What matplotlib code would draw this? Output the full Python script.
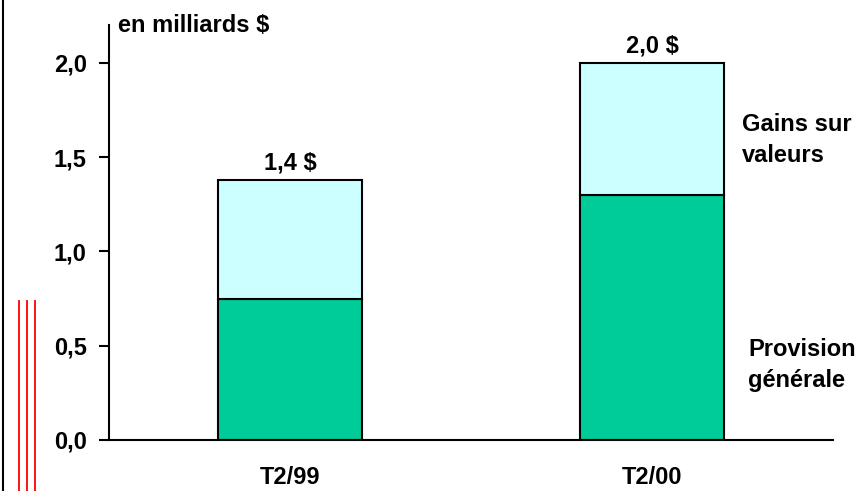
import numpy as np
import matplotlib.pyplot as plt
from matplotlib.lines import Line2D

plt.rcParams['font.family'] = ['Liberation Sans', 'DejaVu Sans']
plt.rcParams['font.weight'] = 'bold'

# ---------------- données ----------------
periodes = ['T2/99', 'T2/00']
provision_generale = [0.75, 1.30]
gains_sur_valeurs = [0.63, 0.70]
totaux_labels = ['1,4 $', '2,0 $']
yticks = [0.0, 0.5, 1.0, 1.5, 2.0]
ytick_labels = ['0,0', '0,5', '1,0', '1,5', '2,0']

FS = 17

fig = plt.figure(figsize=(8.63, 4.91), dpi=100)
ax = fig.add_axes([109 / 863, 1 - 440 / 491, (833 - 109) / 863, (440 - 25) / 491])

x = np.arange(len(periodes))
ax.bar(x, provision_generale, width=0.4, color='#00cc99', edgecolor='black', linewidth=1.5)
ax.bar(x, gains_sur_valeurs, width=0.4, bottom=provision_generale,
       color='#ccffff', edgecolor='black', linewidth=1.5)

totaux = np.array(provision_generale) + np.array(gains_sur_valeurs)
for xi, tot, lab in zip(x, totaux, totaux_labels):
    ax.text(xi, tot + 0.03, lab, ha='center', va='bottom', fontsize=FS, fontweight='bold')

ax.set_xlim(-0.5, 1.5)
ax.set_ylim(0, 2.2)
ax.set_yticks(yticks)
ax.set_yticklabels(ytick_labels, fontsize=FS, fontweight='bold')
ax.set_xticks(x)
ax.set_xticklabels(periodes, fontsize=FS, fontweight='bold')
ax.tick_params(axis='y', direction='out', length=7, width=1.5, pad=9)
ax.tick_params(axis='x', length=0, pad=19)
for s in ['top', 'right']:
    ax.spines[s].set_visible(False)
for s in ['left', 'bottom']:
    ax.spines[s].set_linewidth(1.5)

ax.text(0.013, 1.0, 'en milliards $', transform=ax.transAxes, ha='left', va='center',
        fontsize=FS, fontweight='bold')

# légendes à droite
fig.text(742 / 863, 1 - 125 / 491, 'Gains sur', ha='left', va='center', fontsize=FS, fontweight='bold')
fig.text(742 / 863, 1 - 155 / 491, 'valeurs', ha='left', va='center', fontsize=FS, fontweight='bold')
fig.text(748 / 863, 1 - 350 / 491, 'Provision', ha='left', va='center', fontsize=FS, fontweight='bold')
fig.text(748 / 863, 1 - 381 / 491, 'générale', ha='left', va='center', fontsize=FS, fontweight='bold')

# traits décoratifs à gauche
fig.add_artist(Line2D([3 / 863, 3 / 863], [0, 1], color='black', linewidth=1.5))
for px in [19, 27, 35]:
    fig.add_artist(Line2D([px / 863, px / 863], [0, 1 - 301 / 491], color='red', linewidth=1.3))

plt.savefig('out.png', dpi=100)
